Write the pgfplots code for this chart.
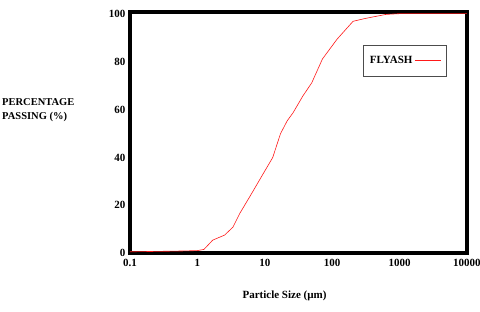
\documentclass[border=0pt]{standalone}
\usepackage{fontspec}
\setmainfont{Liberation Serif}
\usepackage{pgfplots}
\pgfplotsset{compat=1.18}
\begin{document}
\begin{tikzpicture}
\begin{axis}[
  scale only axis,
  width=337pt, height=241pt,
  xmode=log,
  xmin=0.1, xmax=10000,
  ymin=0, ymax=101,
  xtick={0.1,1,10,100,1000,10000},
  xticklabels={0.1,1,10,100,1000,10000},
  ytick={0,20,40,60,80,100},
  yticklabels={0,20,40,60,80,100},
  minor tick num=0,
  major tick length=0pt, minor tick length=0pt,
  log ticks with fixed point,
  /pgf/number format/assume math mode=true,
  ticklabel style={font=\fontsize{11}{13}\selectfont\bfseries},
  xticklabel style={yshift=-3pt},
  yticklabel style={xshift=-1pt},
  axis line style={line width=3.5pt, black},
  xlabel={Particle Size (µm)},
  xlabel style={font=\fontsize{11}{13}\selectfont\bfseries, yshift=-17pt, xshift=-14pt},
  legend style={at={(0.69,0.863)}, anchor=north west, draw=black!70, line width=0.6pt,
    font=\fontsize{11}{13}\selectfont\bfseries, inner xsep=5pt, inner ysep=9pt},
  legend plot pos=right,
  legend image code/.code={\draw[#1] (0pt,0pt) -- (26pt,0pt);},
  clip=false,
]
\addplot[red!90!white, line width=0.6pt] coordinates {
(0.1,0.5) (0.5,0.8) (1,1) (1.25,1.5) (1.69,5.4) (2.53,7.5) (3.36,10.8) (4.28,16.7)
(6.4,25) (9.5,33.3) (13.1,40) (17.1,50) (21.5,55.4) (26.3,58.8) (36.7,65.8)
(49.7,71.3) (71.6,81.3) (118,89.6) (204,97.1) (310,98.3) (630,100) (1000,100.3) (10000,100.3)
};
\addlegendentry{FLYASH}
\end{axis}
\node[anchor=north west, inner sep=0pt, align=left, font=\fontsize{10.5}{14}\selectfont\bfseries]
  at ([xshift=-128pt, yshift=155pt]current axis.south west) {PERCENTAGE\\PASSING (\%)};
\pgfresetboundingbox
\path ([xshift=-130pt, yshift=-59pt]current axis.south west) rectangle ++(480pt,312pt);
\end{tikzpicture}
\end{document}
